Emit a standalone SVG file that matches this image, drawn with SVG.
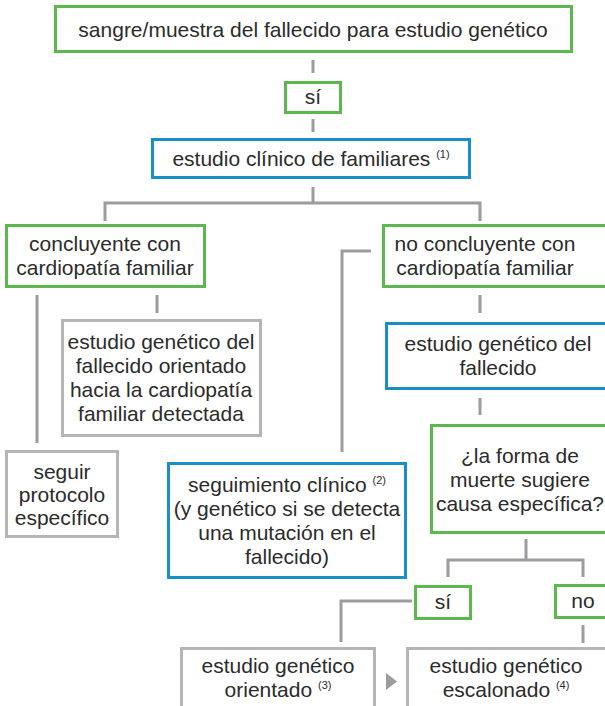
<svg xmlns="http://www.w3.org/2000/svg" width="605" height="706" viewBox="0 0 605 706">
<style>
.g{fill:#fff;stroke:#5cb84e;stroke-width:3}
.b{fill:#fff;stroke:#1a8ec6;stroke-width:3}
.y{fill:#fff;stroke:#b5b5b7;stroke-width:3}
.c{fill:none;stroke:#9b9ba0;stroke-width:3}
text{font-family:"Liberation Sans","DejaVu Sans",sans-serif;font-size:21px;fill:#2b2b2b;text-anchor:middle}
.s{font-size:11px}
</style>
<rect width="605" height="706" fill="#fff"/>
<g id="connectors">
<path class="c" d="M313 60V73M313 119V132M313 187V203M105 221V203H480V221"/>
<path class="c" d="M37 295V443M157 295V313"/>
<path class="c" d="M371 251H342V452M480 295V313M480 398V415"/>
<path class="c" d="M526 539V560M448 577V560H583V577"/>
<path class="c" d="M412 601H341V642M583 625V643"/>
<polygon points="386,673 397,681.5 386,690" fill="#9b9ba0"/>
</g>
<g id="n1"><rect class="g" x="55.5" y="6.5" width="516" height="45"/><text x="313" y="37">sangre/muestra del fallecido para estudio genético</text></g>
<g id="n2"><rect class="g" x="285.5" y="82.5" width="55" height="30"/><text x="313" y="104">sí</text></g>
<g id="n3"><rect class="b" x="152.5" y="139.5" width="317" height="38"/><text x="311" y="166">estudio clínico de familiares <tspan class="s" dy="-8">(1)</tspan></text></g>
<g id="n4"><rect class="g" x="6.5" y="225.5" width="198" height="61"/><text x="105" y="251">concluyente con</text><text x="105" y="275">cardiopatía familiar</text></g>
<g id="n5"><rect class="g" x="383.5" y="225.5" width="240" height="61"/><text x="485" y="251">no concluyente con</text><text x="485" y="275">cardiopatía familiar</text></g>
<g id="n6"><rect class="y" x="62.5" y="320.5" width="198" height="115"/><text x="161" y="349">estudio genético del</text><text x="161" y="373">fallecido orientado</text><text x="161" y="397">hacia la cardiopatía</text><text x="161" y="421">familiar detectada</text></g>
<g id="n7"><rect class="y" x="6.5" y="451.5" width="111" height="85"/><text x="62" y="479">seguir</text><text x="62" y="502">protocolo</text><text x="62" y="525">específico</text></g>
<g id="n8"><rect class="b" x="386.5" y="323.5" width="240" height="65"/><text x="498" y="351">estudio genético del</text><text x="498" y="375">fallecido</text></g>
<g id="n9"><rect class="g" x="431.5" y="425.5" width="190" height="107"/><text x="520" y="463">¿la forma de</text><text x="520" y="487">muerte sugiere</text><text x="520" y="511">causa específica?</text></g>
<g id="n10"><rect class="b" x="168.5" y="463.5" width="237" height="114"/><text x="287" y="492">seguimiento clínico <tspan class="s" dy="-8">(2)</tspan></text><text x="287" y="516">(y genético si se detecta</text><text x="287" y="540">una mutación en el</text><text x="287" y="564">fallecido)</text></g>
<g id="n11"><rect class="g" x="415.5" y="586.5" width="55" height="32"/><text x="443" y="609">sí</text></g>
<g id="n12"><rect class="g" x="555.5" y="585.5" width="60" height="32"/><text x="583" y="608">no</text></g>
<g id="n13"><rect class="y" x="181.5" y="648.5" width="193" height="70"/><text x="278" y="673">estudio genético</text><text x="278" y="697">orientado <tspan class="s" dy="-8">(3)</tspan></text></g>
<g id="n14"><rect class="y" x="407.5" y="648.5" width="210" height="70"/><text x="506" y="673">estudio genético</text><text x="506" y="697">escalonado <tspan class="s" dy="-8">(4)</tspan></text></g>
</svg>
